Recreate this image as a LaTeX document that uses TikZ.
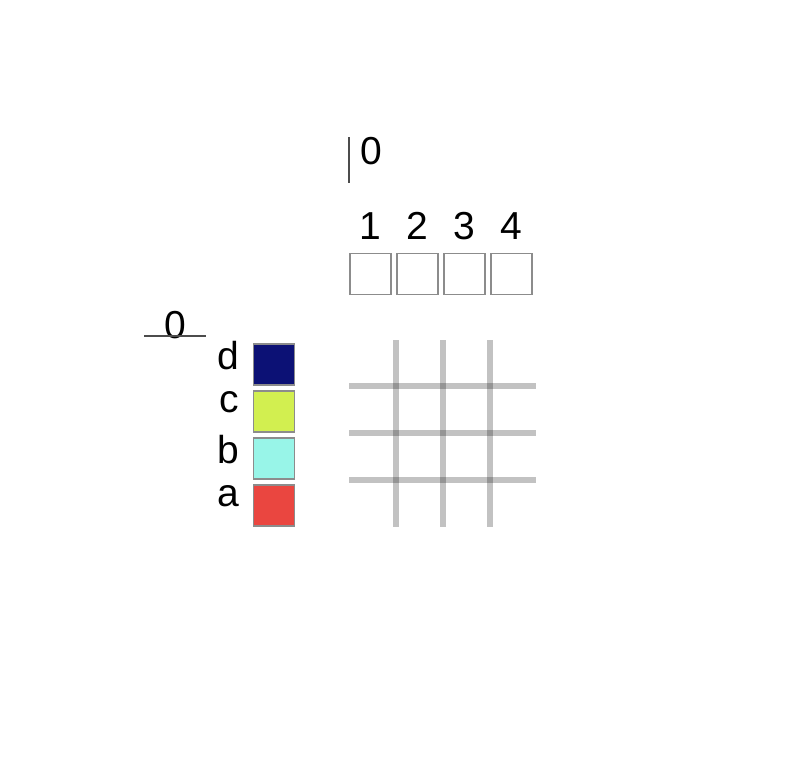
\documentclass[tikz,border=0pt]{standalone}
\usepackage{fontspec}
\setmainfont{Liberation Sans}
\usetikzlibrary{positioning}
\definecolor{cola}{HTML}{EA4640}
\definecolor{colb}{HTML}{98F5E8}
\definecolor{colc}{HTML}{D2EF50}
\definecolor{cold}{HTML}{0C1175}
\tikzset{
  cell/.style={draw=gray!90, line width=1.6pt, minimum size=41pt, inner sep=0pt},
  lbl/.style={font=\fontsize{39}{44}\selectfont, inner sep=0pt},
  gridline/.style={line width=6pt, black, opacity=.24}
}
\begin{document}
\begin{tikzpicture}[x=1pt,y=-1pt]
\useasboundingbox (0,0) rectangle (800,769);
% top zero with its bar
\node[lbl] (topzero) at (371,151) {0};
\draw[line width=1.2pt, black!70] (349,137) -- (349,183);
% numbered cells
\foreach \i in {1,...,4}{
\pgfmathsetmacro\cx{370.5+47*(\i-1)}
\node[cell] (top\i) at (\cx,274) {};
\node[lbl] (num\i) at (\cx,226) {\i};
}
% left zero with its bar
\node[lbl] (leftzero) at (175,325) {0};
\draw[line width=1.2pt, black!70] (144,336) -- (206,336);
% coloured cells
\foreach \n/\c [count=\k from 0] in {d/cold,c/colc,b/colb,a/cola}{
\pgfmathsetmacro\cy{364.5+47*\k}
\node[cell, fill=\c] (cell\n) at (274,\cy) {};
\node[lbl, anchor=east] (name\n) at (239,\cy-9) {\n};
}
% blurred grid
\foreach \i in {0,1,2}{
\pgfmathsetmacro\gx{395.5+47*\i}
\pgfmathsetmacro\gy{386+47*\i}
\draw[gridline] (\gx,340) -- (\gx,527);
\draw[gridline] (349,\gy) -- (536,\gy);
}
\end{tikzpicture}
\end{document}
